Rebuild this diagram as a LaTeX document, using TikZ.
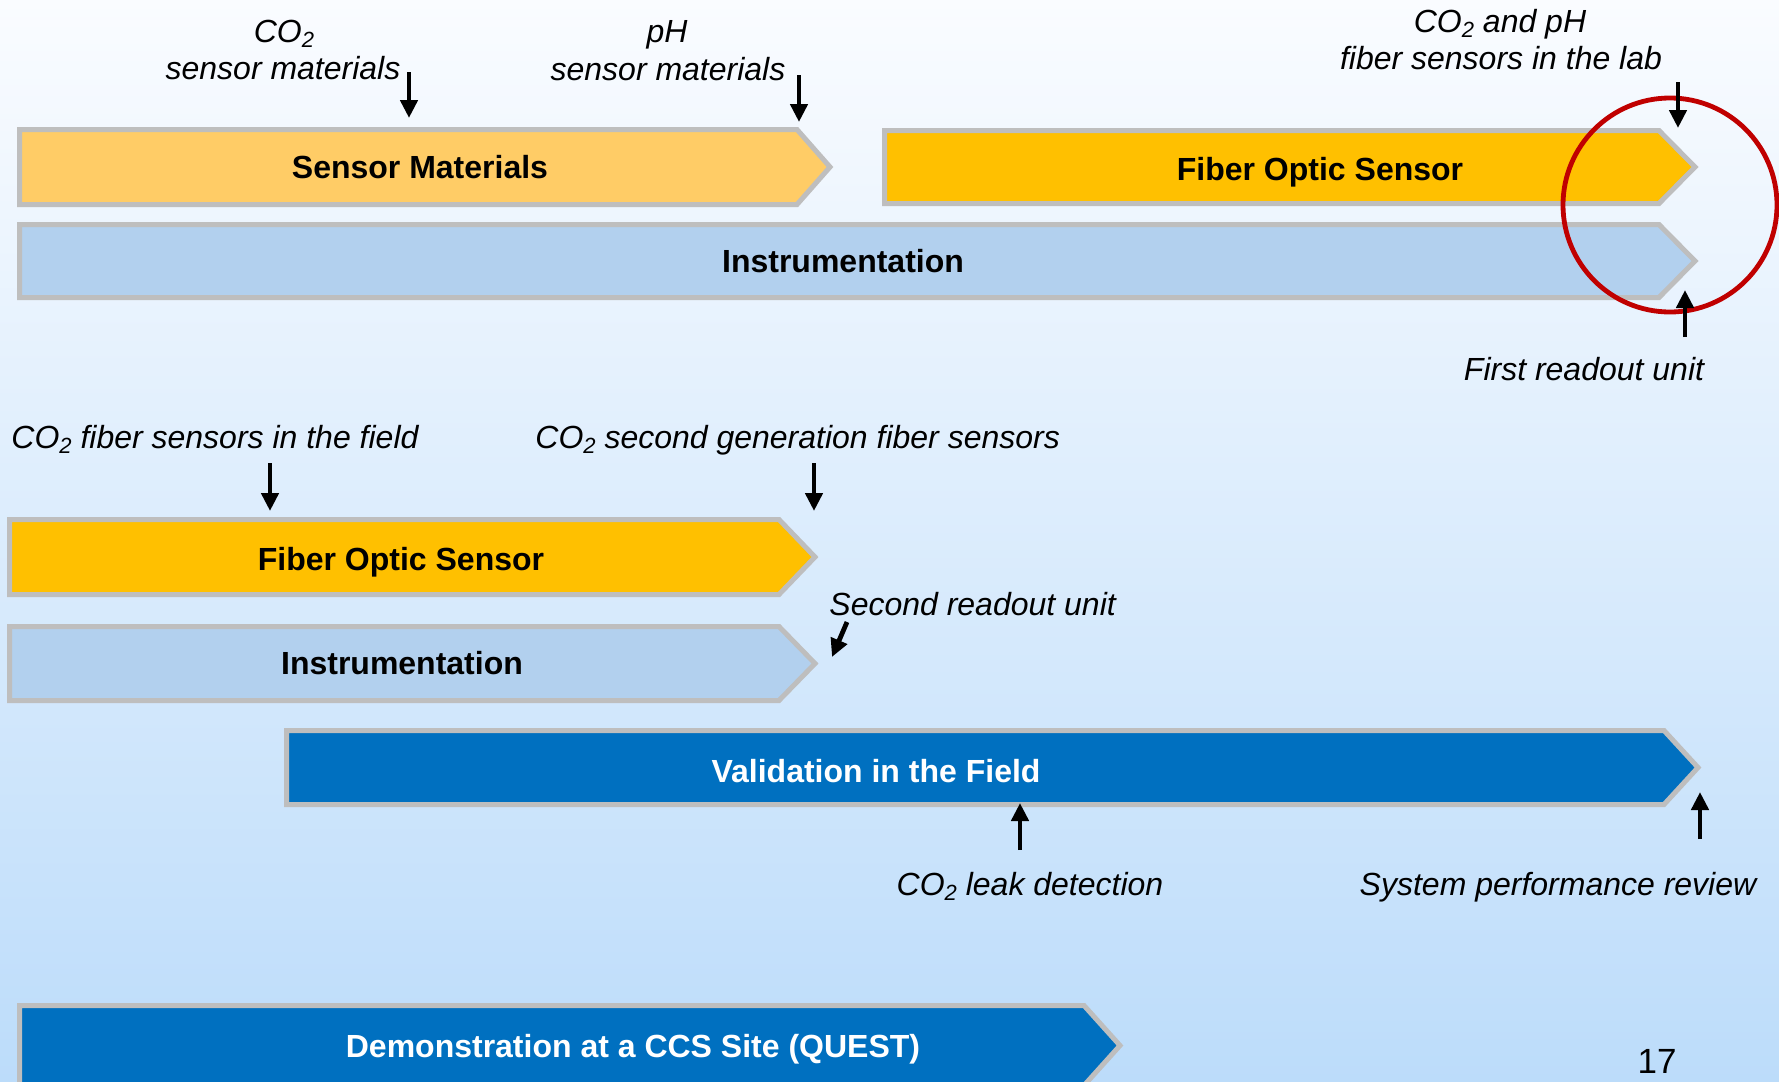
\documentclass[tikz,border=0pt]{standalone}
\usepackage{fontspec}
\setmainfont{Liberation Sans}
\usetikzlibrary{arrows.meta}
\definecolor{bgtop}{RGB}{250,252,255}
\definecolor{bgbot}{RGB}{188,220,250}
\definecolor{matfill}{RGB}{255,204,102}
\definecolor{fibfill}{RGB}{255,192,0}
\definecolor{insfill}{RGB}{178,208,238}
\definecolor{valfill}{RGB}{0,112,192}
\definecolor{barline}{RGB}{190,190,190}
\definecolor{ringred}{RGB}{192,0,0}
\newcommand\subtwo{\raisebox{-0.3ex}{\fontsize{11}{12}\selectfont 2}}
\begin{document}
\begin{tikzpicture}[x=0.5pt,y=-0.5pt,
  barshape/.style={draw=barline, line width=2.5pt, line join=miter},
  bartext/.style={font=\fontsize{16}{19}\selectfont\bfseries, inner sep=0pt, anchor=base},
  note/.style={font=\fontsize{16}{19}\selectfont\itshape, inner sep=0pt, anchor=base},
  pointer/.style={line width=2.4pt, -{Triangle[length=9pt,width=8.5pt]}}]
\useasboundingbox (0,0) rectangle (1779,1082);
\clip (0,0) rectangle (1779,1082);
\shade[top color=bgtop, bottom color=bgbot] (0,0) rectangle (1779,1082);

% bars
\draw[barshape, fill=matfill] (19.5,129.5) -- (797,129.5) -- (830,167) -- (797,204.5) -- (19.5,204.5) -- cycle;
\draw[barshape, fill=fibfill] (884.5,130.5) -- (1659,130.5) -- (1695,167) -- (1659,203.5) -- (884.5,203.5) -- cycle;
\draw[barshape, fill=insfill] (19.5,224.5) -- (1659,224.5) -- (1695,261) -- (1659,297.5) -- (19.5,297.5) -- cycle;
\draw[barshape, fill=fibfill] (9.5,519.5) -- (779,519.5) -- (815,557) -- (779,594.5) -- (9.5,594.5) -- cycle;
\draw[barshape, fill=insfill] (9.5,626.5) -- (779,626.5) -- (815,663.5) -- (779,700.5) -- (9.5,700.5) -- cycle;
\draw[barshape, fill=valfill] (286.5,730.5) -- (1664,730.5) -- (1698,767.5) -- (1664,804.5) -- (286.5,804.5) -- cycle;
\draw[barshape, fill=valfill] (19.5,1005.5) -- (1084,1005.5) -- (1120,1045.5) -- (1084,1085.5) -- (19.5,1085.5) -- cycle;

% bar texts
\node[bartext] (tSM) at (420,178) {Sensor Materials};
\node[bartext] (tFOS) at (1320,180) {Fiber Optic Sensor};
\node[bartext] (tINS) at (843,272) {Instrumentation};
\node[bartext] (tFOSb) at (401,570) {Fiber Optic Sensor};
\node[bartext] (tINSb) at (402,674) {Instrumentation};
\node[bartext, text=white] (tVAL) at (876,782) {Validation in the Field};
\node[bartext, text=white] (tDEM) at (633,1057) {Demonstration at a CCS Site (QUEST)};

% ring
\draw[ringred, line width=2.4pt] (1670,205) circle[radius=107];

% notes
\node[note] (nCOa) at (284,42) {CO\subtwo};
\node[note] (nCOb) at (283,79) {sensor materials};
\node[note] (nPHa) at (667,42) {pH};
\node[note] (nPHb) at (668,80) {sensor materials};
\node[note] (nLABa) at (1500,32) {CO\subtwo{} and pH};
\node[note] (nLABb) at (1501,69) {fiber sensors in the lab};
\node[note] (nFRU) at (1584,380) {First readout unit};
\node[note, anchor=base west] (nFLD) at (11,448) {CO\subtwo{} fiber sensors in the field};
\node[note, anchor=base west] (nGEN) at (535,448) {CO\subtwo{} second generation fiber sensors};
\node[note, anchor=base west] (nSRU) at (829,615) {Second readout unit};
\node[note] (nLEAK) at (1030,895) {CO\subtwo{} leak detection};
\node[note] (nSYS) at (1558,895) {System performance review};
\node[font=\fontsize{17.5}{20}\selectfont, inner sep=0pt, anchor=base] (nPG) at (1657,1073) {17};

% arrow end points
\coordinate (a1s) at (409,72);   \coordinate (a1e) at (409,118);
\coordinate (a2s) at (799,75);   \coordinate (a2e) at (799,122);
\coordinate (a3s) at (1678,82);  \coordinate (a3e) at (1678,128);
\coordinate (a4s) at (1685,337); \coordinate (a4e) at (1685,290);
\coordinate (a5s) at (270,463);  \coordinate (a5e) at (270,511);
\coordinate (a6s) at (814,463);  \coordinate (a6e) at (814,511);
\coordinate (a7s) at (847,622);  \coordinate (a7e) at (832,657);
\coordinate (a8s) at (1020,850); \coordinate (a8e) at (1020,803);
\coordinate (a9s) at (1700,839); \coordinate (a9e) at (1700,792);
\foreach \k in {1,...,9}{\draw[pointer] (a\k s) -- (a\k e);}
\end{tikzpicture}
\end{document}
